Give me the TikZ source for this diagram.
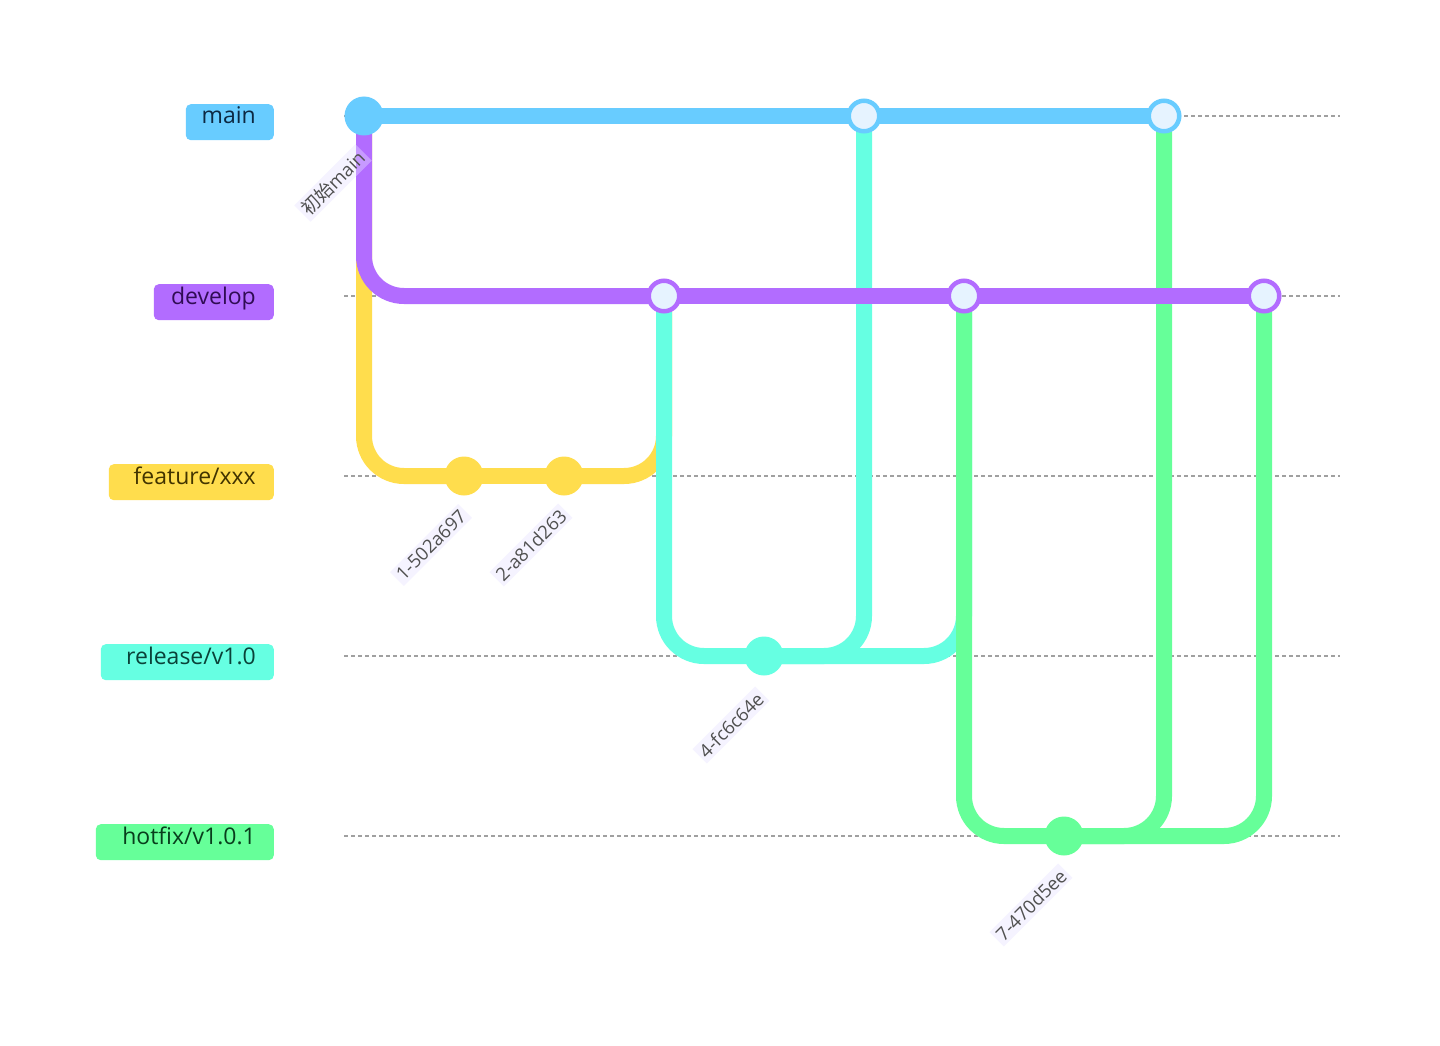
\documentclass[tikz,border=0pt]{standalone}
\usepackage{fontspec}
\setmainfont{Open Sans}
\newfontfamily\cjk{Noto Sans CJK SC}
\definecolor{cmain}{RGB}{104,204,255}
\definecolor{cdev}{RGB}{178,108,255}
\definecolor{cfeat}{RGB}{255,221,77}
\definecolor{crel}{RGB}{102,255,226}
\definecolor{chot}{RGB}{102,255,153}
\definecolor{tmain}{RGB}{12,40,66}
\definecolor{tdev}{RGB}{48,12,84}
\definecolor{tfeat}{RGB}{66,52,0}
\definecolor{trel}{RGB}{10,66,56}
\definecolor{thot}{RGB}{8,62,28}
\definecolor{lanegray}{RGB}{160,160,160}
\definecolor{mergefill}{RGB}{230,243,255}
\definecolor{ctext}{RGB}{80,80,80}
\definecolor{cbg}{RGB}{232,225,255}
\pgfdeclarelayer{bg}
\pgfdeclarelayer{lines}
\pgfsetlayers{bg,lines,main}
\begin{document}
\begin{tikzpicture}[x=1pt,y=-1pt,
  lane/.style={draw=lanegray, line width=1.5pt, dash pattern=on 4pt off 3pt},
  br/.style={line width=16pt, rounded corners=40pt},
  commit/.style={circle, minimum size=39pt, inner sep=0pt},
  merge/.style={circle, minimum size=30.5pt, inner sep=0pt, line width=4.5pt, fill=mergefill},
  bbox/.style={rounded corners=5pt, minimum height=36pt, inner sep=0pt, anchor=north east},
  btext/.style={anchor=base east, inner sep=0pt, font=\fontsize{23}{27}\selectfont},
  clabel/.style={rotate=45, font=\fontsize{18.5}{20}\selectfont, text=ctext, fill=cbg, fill opacity=0.4, text opacity=1, inner sep=3pt}
]
\begin{pgfonlayer}{bg}
\fill[white] (0,0) rectangle (1440,1046);
\end{pgfonlayer}
\useasboundingbox (0,0) rectangle (1440,1046);

% branch labels
\node[bbox, fill=cmain, minimum width=88pt] (bmain) at (274,104) {};
\node[btext, text=tmain] (tlmain) at (256,124) {main};
\node[bbox, fill=cdev, minimum width=120pt] (bdev) at (274,284) {};
\node[btext, text=tdev] (tldev) at (256,304) {develop};
\node[bbox, fill=cfeat, minimum width=165pt] (bfeat) at (274,464) {};
\node[btext, text=tfeat] (tlfeat) at (256,484) {feature/xxx};
\node[bbox, fill=crel, minimum width=173pt] (brel) at (274,644) {};
\node[btext, text=trel] (tlrel) at (256,664) {release/v1.0};
\node[bbox, fill=chot, minimum width=178pt] (bhot) at (274,824) {};
\node[btext, text=thot] (tlhot) at (256,844) {hotfix/v1.0.1};

% commits
\node[commit, fill=cmain] (c0) at (364,116) {};
\node[commit, fill=cfeat] (c1) at (464,476) {};
\node[commit, fill=cfeat] (c2) at (564,476) {};
\node[merge, draw=cdev] (m1) at (664,296) {};
\node[commit, fill=crel] (c4) at (764,656) {};
\node[merge, draw=cmain] (m2) at (864,116) {};
\node[merge, draw=cdev] (m3) at (964,296) {};
\node[commit, fill=chot] (c7) at (1064,836) {};
\node[merge, draw=cmain] (m4) at (1164,116) {};
\node[merge, draw=cdev] (m5) at (1264,296) {};

% lane coordinates
\coordinate (l0s) at (344,116); \coordinate (l0e) at (1340,116);
\coordinate (l1s) at (344,296); \coordinate (l1e) at (1340,296);
\coordinate (l2s) at (344,476); \coordinate (l2e) at (1340,476);
\coordinate (l3s) at (344,656); \coordinate (l3e) at (1340,656);
\coordinate (l4s) at (344,836); \coordinate (l4e) at (1340,836);

\begin{pgfonlayer}{lines}
\draw[lane] (l0s) -- (l0e);
\draw[lane] (l1s) -- (l1e);
\draw[lane] (l2s) -- (l2e);
\draw[lane] (l3s) -- (l3e);
\draw[lane] (l4s) -- (l4e);
% feature
\draw[br, cfeat] (c0.center) |- (c1.center);
\draw[br, cfeat] (c1.center) -- (c2.center);
\draw[br, cfeat] (c2.center) -| (m1.center);
% release
\draw[br, crel] (m1.center) |- (c4.center);
\draw[br, crel] (c4.center) -| (m2.center);
\draw[br, crel] (c4.center) -| (m3.center);
% hotfix
\draw[br, chot] (m3.center) |- (c7.center);
\draw[br, chot] (c7.center) -| (m4.center);
\draw[br, chot] (c7.center) -| (m5.center);
% develop
\draw[br, cdev] (c0.center) |- (m1.center);
\draw[br, cdev] (m1.center) -- (m3.center);
\draw[br, cdev] (m3.center) -- (m5.center);
% main
\draw[br, cmain] (c0.center) -- (m2.center);
\draw[br, cmain] (m2.center) -- (m4.center);
\end{pgfonlayer}

% commit labels
\node[clabel] (k0) at ([shift={(-31,67)}]c0.center) {{\cjk 初始}main};
\node[clabel] (k1) at ([shift={(-33,69)}]c1.center) {1-502a697};
\node[clabel] (k2) at ([shift={(-33,69)}]c2.center) {2-a81d263};
\node[clabel] (k4) at ([shift={(-33,69)}]c4.center) {4-fc6c64e};
\node[clabel] (k7) at ([shift={(-33,69)}]c7.center) {7-470d5ee};
\end{tikzpicture}
\end{document}
